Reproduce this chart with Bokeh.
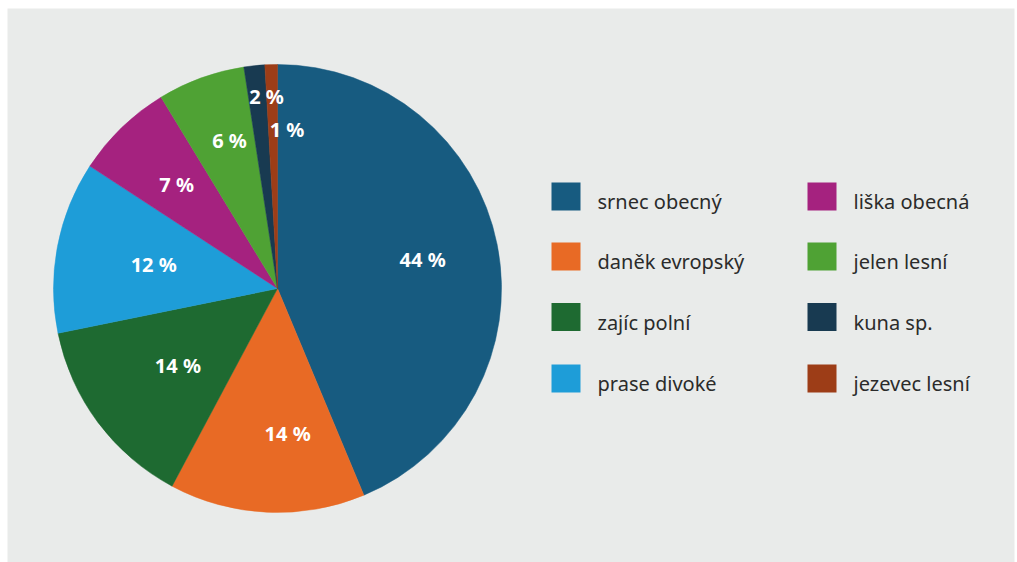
import math
from bokeh.plotting import figure
from bokeh.models import Range1d, ColumnDataSource
from bokeh.core.properties import value
from bokeh.embed import file_html
from bokeh.resources import INLINE

# ---- data ----
categories = ["srnec obecný", "daněk evropský", "zajíc polní", "prase divoké",
              "liška obecná", "jelen lesní", "kuna sp.", "jezevec lesní"]
shares = [43.7, 14.1, 14.0, 12.4, 7.1, 6.3, 1.5, 0.9]
colors = ["#175b80", "#e86a25", "#1e6a31", "#1e9dd8",
          "#a5227f", "#4fa234", "#183a51", "#9d3d17"]

W, H = 1017, 562
BL, BT, BR, BB = 7, 8, 3, 0
PW, PH = W - BL - BR, H - BT - BB
BG = "#e9ebea"

p = figure(width=W, height=H, output_backend="svg", toolbar_location=None,
           x_range=Range1d(0, PW), y_range=Range1d(0, PH),
           min_border_left=BL, min_border_top=BT, min_border_right=BR,
           min_border_bottom=BB)
p.axis.visible = False
p.grid.visible = False
p.outline_line_color = None
p.background_fill_color = BG
p.border_fill_color = "white"

cx, cy, R = 270, 274, 224
total = sum(shares)
starts, ends, mids = [], [], []
acc = 0.0
for s in shares:
    a0 = acc / total * 2 * math.pi
    acc += s
    a1 = acc / total * 2 * math.pi
    # clockwise from 12 o'clock -> bokeh angles (anticlockwise from 3 o'clock)
    starts.append(math.pi / 2 - a1)
    ends.append(math.pi / 2 - a0)
    mids.append((a0 + a1) / 2)

src = ColumnDataSource(dict(start=starts, end=ends, color=colors, cat=categories))
p.wedge(x=cx, y=cy, radius=R, start_angle="start", end_angle="end",
        fill_color="color", line_color="color", line_width=0.5, source=src)

# slice labels
label_r = [148, 145, 128, 126, 145, 158, 193, 159]
label_dx = [0, 17, 3, 0, 0, 6, 9, 14]
lx, ly, lt = [], [], []
for m, r, dx, s in zip(mids, label_r, label_dx, shares):
    lx.append(cx + r * math.sin(m) + dx)
    ly.append(cy + r * math.cos(m))
    lt.append(f"{round(s)} %")
p.text(x=lx, y=ly, text=lt, text_color="white", text_font=value("Noto Sans"),
       text_font_style="bold", text_font_size="20px", text_align="center",
       text_baseline="middle")

# legend (two columns, four rows)
col_x = [558.5, 814.5]
text_x = [590, 846]
row_y = [366, 306, 245.5, 184]
sq_x, sq_y, tx, ty = [], [], [], []
for i in range(len(categories)):
    c, r = divmod(i, 4)
    sq_x.append(col_x[c])
    sq_y.append(row_y[r])
    tx.append(text_x[c])
    ty.append(row_y[r] - 5)
p.rect(x=sq_x, y=sq_y, width=29, height=28, fill_color=colors, line_color=None)
p.text(x=tx, y=ty, text=categories, text_color="#2b2b2b",
       text_font=value("Noto Sans"), text_font_size="20px",
       text_align="left", text_baseline="alphabetic")

open("out.html", "w").write(file_html(p, INLINE))
